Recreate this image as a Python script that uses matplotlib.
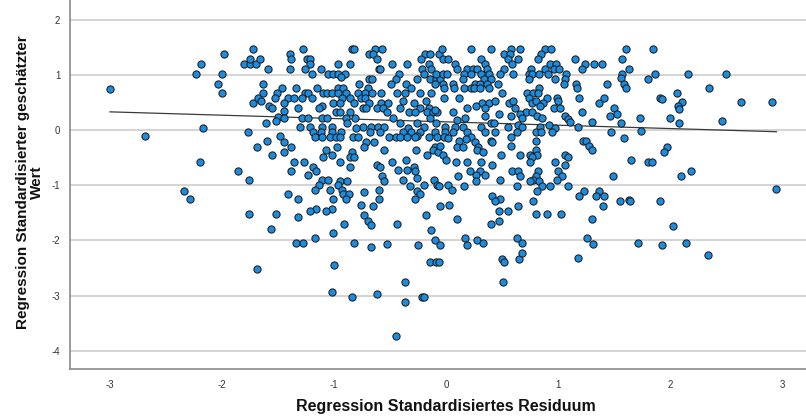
import numpy as np
import matplotlib
matplotlib.use("Agg")
import matplotlib.pyplot as plt

# ---------------------------------------------------------------
# Data: standardised residual (x) vs. standardised predicted value (y)
# ---------------------------------------------------------------

# isolated points around the edge of the cloud
edge_residual = [
    -3.00, -2.19, -2.23, -1.98, -2.00, -2.04, -2.00, -1.72, -1.80, -1.75, -1.70, -1.72, -1.68, -2.17,
    -2.69, -1.77, -1.69, -2.20, -1.86, -1.76, -2.34, -2.29, -1.76,
    -1.69, -1.00, -1.02, -0.84, -0.62, -0.37, -0.37, -0.21, -0.20, -0.45, -0.14, -0.09,
    -0.06, 0.50, 0.52, 0.51, 0.65, 0.68, 1.18, 2.34,
    1.59, 1.74, 1.97, 1.95, 1.65, 1.80, 1.84, 2.10, 2.19, 2.95, 1.63, 1.64, 1.91, 2.03, 1.71, 1.93, 2.14,
    1.61, 1.85, 1.57, 1.63, 1.57, 1.56, 1.59, 1.61, 1.87, 1.80, 2.16, 2.50, 2.35, 2.06, 1.91, 1.93,
    2.11, 2.07, 2.08, 2.63, 2.91, 2.00, 1.73, 2.46, 1.56, 2.08,
]
edge_predicted = [
    0.75, 1.19, 1.02, 1.37, 1.02, 0.84, 0.67, 1.46, 1.19, 1.19, 1.19, 0.49, 0.58, 0.04,
    -0.11, -0.04, -0.31, -0.58, -0.75, -0.90, -1.10, -1.25, -1.52,
    -2.52, -2.44, -2.93, -3.02, -2.97, -2.76, -3.11, -3.02, -3.02, -3.73, -2.40, -2.40,
    -2.40, -2.34, -2.40, -2.76, -2.34, -2.23, -2.31, -2.26,
    -0.14, -0.02, -0.31, -0.40, -0.55, -0.57, -0.57, -0.84, -0.75, -1.07, -1.27, -1.28, -1.28, -1.73, -2.05, -2.08, -2.05,
    1.46, 1.46, 1.28, 1.11, 1.02, 0.94, 0.84, 0.77, 1.02, 0.93, 1.02, 1.02, 0.76, 0.67, 0.58, 0.57,
    0.51, 0.44, 0.39, 0.51, 0.51, 0.22, 0.22, 0.16, 0.13, 0.13,
]

# dense centre of the cloud, one row per predicted-value level
core_levels = [
    # negative residuals, upper half
    1.46, 1.37, 1.28, 1.19, 1.11, 1.02, 0.97, 0.93, 0.84, 0.76, 0.67, 0.58, 0.52, 0.49,
    0.44, 0.40, 0.35, 0.32, 0.24, 0.21, 0.16, 0.13, 0.06, 0.03,
    # positive residuals, upper half
    1.46, 1.37, 1.28, 1.19, 1.11, 1.02, 0.93, 0.84, 0.76, 0.67, 0.58, 0.49, 0.52, 0.44,
    0.40, 0.36, 0.33, 0.30, 0.25, 0.21, 0.20, 0.18, 0.14, 0.13, 0.09, 0.06, 0.04,
    # negative residuals, lower half
    -0.03, -0.10, -0.13, -0.20, -0.22, -0.31, -0.37, -0.40, -0.46, -0.49, -0.55, -0.58,
    -0.64, -0.67, -0.72, -0.75, -0.81, -0.84, -0.87, -0.90, -0.93, -1.00, -1.02, -1.08,
    -1.11, -1.12, -1.16, -1.25, -1.35, -1.37, -1.43, -1.46, -1.52, -1.54, -1.58, -1.64,
    -1.70, -1.72, -1.79, -1.82, -1.87, -1.96, -1.99, -2.05, -2.07, -2.08, -2.12,
    # positive residuals, lower half
    -0.03, -0.04, -0.13, -0.15, -0.16, -0.19, -0.20, -0.22, -0.28, -0.31, -0.37, -0.40,
    -0.45, -0.46, -0.49, -0.55, -0.58, -0.64, -0.75, -0.81, -0.84, -0.90, -0.93, -1.00,
    -1.02, -1.08, -1.11, -1.20, -1.25, -1.28, -1.35, -1.37, -1.46, -1.52, -1.61, -1.65,
    -1.70, -1.96, -1.99, -2.05, -2.07, -2.08,
]
core_counts = [
    5, 6, 7, 6, 8, 7, 1, 7, 5, 7, 17, 9, 3, 8,
    2, 10, 1, 9, 1, 9, 1, 5, 9, 2,
    7, 3, 7, 8, 11, 14, 6, 9, 9, 4, 7, 6, 4, 2,
    6, 1, 4, 3, 5, 3, 1, 1, 2, 2, 2, 8, 1,
    10, 2, 14, 1, 3, 4, 4, 3, 3, 3, 1, 4,
    1, 4, 2, 3, 1, 1, 1, 4, 3, 4, 1, 4,
    1, 1, 4, 5, 1, 2, 2, 2, 1, 2, 1, 1,
    2, 1, 1, 1, 1, 1, 1, 3, 1, 2, 1,
    7, 3, 3, 1, 1, 1, 4, 2, 3, 3, 3, 1,
    1, 5, 2, 1, 5, 2, 6, 2, 5, 3, 3, 1,
    6, 1, 3, 4, 1, 3, 1, 2, 2, 3, 2, 1,
    1, 3, 1, 2, 1, 1,
]
core_residual = [
    # negative residuals, upper half
    -1.28, -0.84, -0.82, -0.63, -0.57,
    -1.39, -0.69, -0.65, -0.19, -0.14, -0.06,
    -1.75, -1.66, -1.38, -1.24, -1.21, -0.62, -0.22,
    -1.21, -0.96, -0.86, -0.48, -0.35, -0.15,
    -1.59, -1.39, -1.26, -1.12, -0.60, -0.59, -0.21, -0.13,
    -1.20, -1.05, -1.01, -0.96, -0.90, -0.42, -0.20,
    -0.94,
    -0.69, -0.66, -0.45, -0.26, -0.14, -0.09, -0.05,
    -1.63, -0.78, -0.49, -0.36, -0.10,
    -1.46, -1.34, -1.15, -0.96, -0.92, -0.70, -0.31,
    -1.63, -1.51, -1.26, -1.23, -1.10, -1.06, -1.02, -0.96, -0.89, -0.79, -0.72, -0.66, -0.58,
    -0.44, -0.37, -0.23, -0.13,
    -1.53, -1.41, -1.36, -1.29, -1.20, -0.93, -0.86, -0.76, -0.72,
    -1.65, -0.38, -0.18,
    -1.45, -1.01, -0.95, -0.82, -0.69, -0.58, -0.52, -0.29,
    -1.58, -1.11,
    -1.55, -1.32, -1.13, -0.74, -0.71, -0.62, -0.56, -0.41, -0.23, -0.15,
    -1.45,
    -0.98, -0.95, -0.86, -0.53, -0.33, -0.28, -0.17, -0.12, -0.08,
    -1.50,
    -1.45, -1.29, -1.23, -1.11, -1.06, -0.89, -0.81, -0.47, -0.14,
    -1.52,
    -1.61, -0.88, -0.41, -0.26, -0.09,
    -1.30, -1.21, -1.11, -1.02, -0.74, -0.67, -0.61, -0.55, -0.20,
    -0.80, -0.34,
    # positive residuals, upper half
    -0.04, 0.22, 0.40, 0.58, 0.66, 0.88, 0.94,
    0.52, 0.57, 0.85,
    -0.03, 0.02, 0.31, 0.55, 0.64, 0.82, 1.15,
    0.08, 0.35, 0.59, 0.93, 0.98, 1.24, 1.32, 1.39,
    0.10, 0.19, 0.24, 0.28, 0.37, 0.52, 0.76, 0.88, 0.96, 1.01, 1.21,
    -0.09, -0.03, 0.01, 0.16, 0.22, 0.31, 0.38, 0.48, 0.60, 0.74, 0.77, 0.83, 0.91, 1.07,
    0.15, 0.34, 0.40, 0.74, 0.97, 1.06,
    -0.03, 0.06, 0.26, 0.30, 0.37, 0.46, 1.05, 1.16, 1.44,
    -0.02, 0.07, 0.16, 0.22, 0.25, 0.30, 0.38, 0.83, 1.17,
    0.50, 0.72, 0.78, 0.82,
    -0.02, 0.12, 0.74, 0.90, 0.99, 1.19, 1.41,
    0.32, 0.38, 0.56, 0.77, 0.87, 1.37,
    0.44, 0.60, 0.80, 1.00,
    0.27, 0.84,
    0.19, 0.35, 0.62, 0.96, 1.02, 1.50,
    -0.10,
    0.06, 0.71, 0.77, 1.21,
    0.47, 0.66, 1.53,
    0.35, 0.58, 0.81, 1.06, 1.46,
    0.17, 0.68, 0.86,
    1.09,
    0.10,
    1.11, 1.30,
    0.40, 0.43,
    0.64, 0.92,
    -0.01, 0.08, 0.15, 0.31, 0.55, 0.68, 0.84, 1.18,
    0.97,
    # negative residuals, lower half
    -1.19, -1.12, -1.02, -0.94, -0.68, -0.59, -0.38, -0.31, -0.23, -0.10,
    -1.48, -0.26,
    -1.17, -1.11, -1.04, -0.98, -0.95, -0.83, -0.79, -0.51, -0.45, -0.41, -0.35, -0.28, -0.15, -0.08,
    -1.60,
    -1.45, -0.71, -0.64,
    -1.38, -0.97, -0.73, -0.10,
    -1.07, -0.55, -0.27, -0.12,
    -1.45, -0.84, -0.07,
    -1.55, -1.02, -0.17,
    -1.10, -0.86, -0.82,
    -0.36,
    -1.36, -1.27, -0.95, -0.48,
    -0.62,
    -1.19, -0.86, -0.59, -0.29,
    -0.43, -0.35,
    -1.16, -1.38, -0.28,
    -1.23,
    -0.57,
    -0.26,
    -1.11, -1.05, -0.38, -0.11,
    -0.95, -0.88, -0.55,
    -1.13, -0.96, -0.20, -0.08,
    -0.32,
    -1.17, -1.04, -0.93, -0.60,
    -0.26,
    -0.73,
    -1.41, -0.92, -0.87, -0.23,
    -1.32, -1.01, -0.89, -0.60, -0.28,
    -0.76,
    -0.65, -0.05,
    -1.16, -1.02,
    -1.21, -1.07,
    -1.52,
    -0.73, -0.18,
    -1.32,
    -0.70,
    -0.91, -0.44,
    -0.67,
    -1.56,
    -0.13,
    -1.01,
    -1.17,
    -0.10,
    -1.34, -1.28, -0.82,
    -0.53,
    -0.25, -0.05,
    -0.67,
    # positive residuals, lower half
    0.06, 0.19, 0.35, 0.80, 0.85, 0.95, 1.47,
    0.44, 0.63, -0.01,
    -0.02, 0.22, 0.58,
    0.02,
    0.18,
    0.80,
    0.12, 0.40, 1.22, 1.25,
    0.26, 0.41,
    -0.05, 0.58, 1.28,
    0.10, 0.15, 0.29,
    0.28, 0.80, 1.30,
    0.33,
    1.06,
    -0.03, 0.75, 0.81, 0.49, 0.66,
    0.77, 1.09,
    0.00,
    0.09, 0.19, 0.31, 0.75, 0.97,
    0.41, 1.06,
    0.21, 0.30, 0.59, 0.64, 0.82, 1.00,
    0.27, 0.35,
    0.11, 0.66, 0.80, 1.04, 1.49,
    0.48, 0.78, 0.99,
    0.27, 0.83, 0.75,
    0.02,
    -0.06, 0.16, 0.63, 0.86, 0.93, 1.09,
    0.05,
    0.81, 1.23, 1.37,
    0.41, 1.19, 1.34, 1.41,
    0.48,
    0.44, 0.78, 1.55,
    0.03,
    0.64, 1.40,
    0.47, 0.55,
    0.80, 0.90, 1.03,
    0.10, 1.30,
    0.47,
    0.40,
    0.17, 0.63, 1.26,
    0.28,
    0.33, 0.68,
    1.31,
    0.19,
]

# fit line drawn across the residual range
fit_residual = [-3.00, 2.95]
fit_predicted = [0.33, -0.03]

x_ticks = [-3, -2, -1, 0, 1, 2, 3]
y_ticks = [-4, -3, -2, -1, 0, 1, 2]

x_label = "Regression Standardisiertes Residuum"
y_label = "Regression Standardisierter geschätzter\nWert"

# ---------------------------------------------------------------
assert len(core_levels) == len(core_counts)
assert sum(core_counts) == len(core_residual)
assert len(edge_residual) == len(edge_predicted)

residual = np.concatenate([edge_residual, core_residual])
predicted = np.concatenate([edge_predicted, np.repeat(core_levels, core_counts)])

font = ["Liberation Sans", "DejaVu Sans"]

fig = plt.figure(figsize=(8.06, 4.20), dpi=100)
ax = fig.add_axes([70 / 806, 51 / 420, 736 / 806, 369 / 420])

ax.set_xlim(-3.357, 3.214)
ax.set_ylim(-4.33, 2.357)

for yv in y_ticks:
    ax.axhline(yv, color="#d4d4d4", lw=1.4, zorder=0)

ax.plot(fit_residual, fit_predicted, color="#3a3a3a", lw=0.9, zorder=2)
ax.scatter(residual, predicted, s=27, c="#1b8de0", edgecolors="#1c1c1c",
           linewidths=0.75, zorder=3)

ax.set_xticks(x_ticks)
ax.set_yticks(y_ticks)
ax.set_xticklabels([str(v) for v in x_ticks], family=font, fontsize=7,
                   color="#333333")
ax.set_yticklabels([str(v) for v in y_ticks], family=font, fontsize=7,
                   color="#333333")
ax.tick_params(axis="x", length=0, pad=8)
ax.tick_params(axis="y", length=0, pad=7)

for side in ("top", "right"):
    ax.spines[side].set_visible(False)
for side in ("left", "bottom"):
    ax.spines[side].set_color("#8a8a8a")
    ax.spines[side].set_linewidth(1.2)

fig.text(446 / 806, 1 - 407 / 420, x_label, family=font, fontsize=11.5,
         fontweight="bold", ha="center", va="center", color="#111111")
fig.text(30 / 806, 1 - 182 / 420, y_label, family=font, fontsize=11,
         fontweight="bold", ha="center", va="center", rotation=90,
         multialignment="center", linespacing=0.95, color="#111111")

fig.savefig("out.png", dpi=100)
